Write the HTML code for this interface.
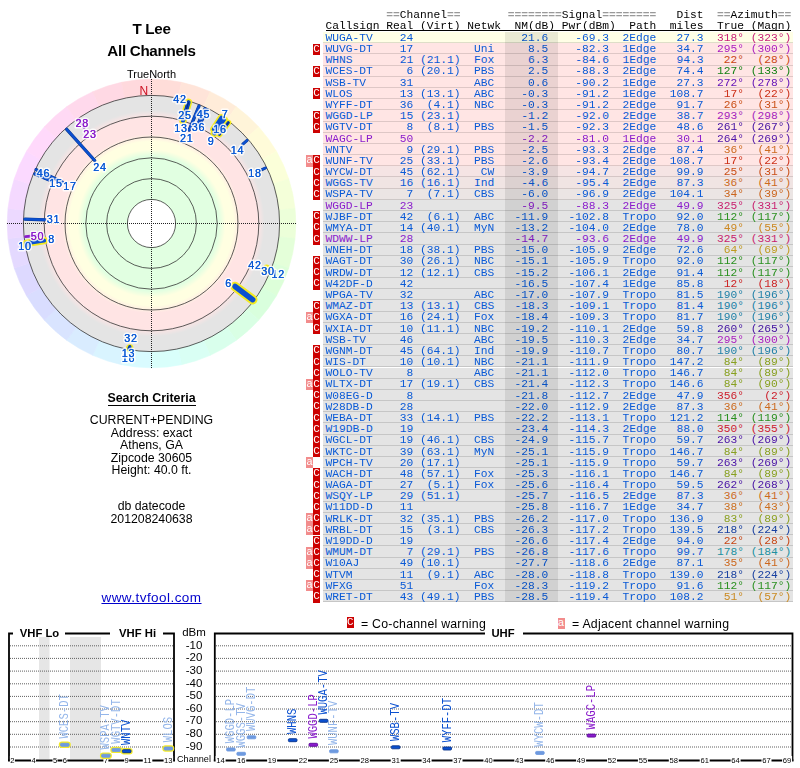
<!DOCTYPE html>
<html><head><meta charset="utf-8"><title>TV Fool</title>
<style>
html,body{margin:0;padding:0;background:#fff;}
body{width:800px;height:768px;position:relative;overflow:hidden;font-family:"Liberation Sans",sans-serif;color:#000;}
.abs{position:absolute;}
.ctr{position:absolute;left:0;width:303px;text-align:center;white-space:nowrap;}
.mono{font-family:"Liberation Mono",monospace;font-size:11.25px;line-height:11px;white-space:pre;}
.row{position:absolute;left:323px;width:469.5px;box-sizing:border-box;border-bottom:1px solid rgba(0,0,0,.13);padding-left:2.4px;padding-top:.8px;color:#0a5ad6;}
.ry{background:#ffffe6;}.rp{background:#ffe5e4;}.rg{background:#e4e4e4;}
.pu{color:#8a1ccc;}
.fl{position:absolute;width:7px;font-family:"Liberation Mono",monospace;font-size:11px;line-height:11px;color:#fff;text-align:center;overflow:hidden;}
.fc{background:#cc0000;left:313px;}
.fa{background:#f28c8c;left:306px;}
.g{color:#999;font-weight:bold;}
.hd{position:absolute;left:325.4px;color:#000;}
svg text{font-family:"Liberation Sans",sans-serif;}
</style></head><body>
<div id="page" style="position:absolute;left:0;top:0;width:800px;height:768px;opacity:.999;">

<div class="ctr" style="top:19.8px;font-size:15.2px;letter-spacing:-.3px;font-weight:bold;line-height:18px;">T Lee</div>
<div class="ctr" style="top:41.8px;font-size:15.2px;letter-spacing:-.3px;font-weight:bold;line-height:18px;">All Channels</div>
<div class="ctr" style="top:68px;font-size:11px;line-height:12px;">TrueNorth</div>
<div class="ctr" style="top:391px;font-size:12.4px;font-weight:bold;line-height:14px;">Search Criteria</div>
<div class="abs" style="left:107.5px;top:404.5px;width:88px;height:1px;background:#000;"></div>
<div class="ctr" style="top:413.0px;font-size:12.3px;line-height:14px;">CURRENT+PENDING</div>
<div class="ctr" style="top:425.5px;font-size:12.3px;line-height:14px;">Address: exact</div>
<div class="ctr" style="top:438.0px;font-size:12.3px;line-height:14px;">Athens, GA</div>
<div class="ctr" style="top:450.5px;font-size:12.3px;line-height:14px;">Zipcode 30605</div>
<div class="ctr" style="top:463.0px;font-size:12.3px;line-height:14px;">Height: 40.0 ft.</div>
<div class="ctr" style="top:499px;font-size:12.3px;line-height:14px;">db datecode</div>
<div class="ctr" style="top:511.5px;font-size:12.3px;line-height:14px;">201208240638</div>
<div class="ctr" style="top:590.2px;font-size:13.5px;line-height:16px;letter-spacing:.45px;color:#0000cc;"><span style="text-decoration:underline;">www.tvfool.com</span></div>
<div class="mono hd" style="top:10px;">         <span class="g">==</span>Channel<span class="g">==</span>       <span class="g">========</span>Signal<span class="g">========</span>   Dist  <span class="g">==</span>Azimuth<span class="g">==</span></div>
<div class="mono hd" style="top:21px;">Callsign Real (Virt) Netwk  NM(dB) Pwr(dBm)  Path  miles  True (Magn)</div>
<div class="abs" style="left:325.5px;top:30.1px;width:465px;height:1px;background:#000;"></div>
<div class="row mono ry" style="top:32.10px;height:11.18px;">WUGA-TV    24                21.6    -69.3  2Edge   27.3  <span style="color:#c81e78">318° (323°)</span></div>
<div class="row mono rp" style="top:43.28px;height:11.18px;">WUVG-DT    17         Uni     8.5    -82.3  1Edge   34.7  <span style="color:#aa1ebe">295° (300°)</span></div>
<div class="fl fc" style="top:43.58px;height:11.18px;">C</div>
<div class="row mono rp" style="top:54.46px;height:11.18px;">WHNS       21 (21.1)  Fox     6.3    -84.6  1Edge   94.3  <span style="color:#c84614"> 22°  (28°)</span></div>
<div class="row mono rp" style="top:65.64px;height:11.18px;">WCES-DT     6 (20.1)  PBS     2.5    -88.3  2Edge   74.4  <span style="color:#148214">127° (133°)</span></div>
<div class="fl fc" style="top:65.94px;height:11.18px;">C</div>
<div class="row mono rp" style="top:76.82px;height:11.18px;">WSB-TV     31         ABC     0.6    -90.2  1Edge   27.3  <span style="color:#6618b8">272° (278°)</span></div>
<div class="row mono rp" style="top:88.00px;height:11.18px;">WLOS       13 (13.1)  ABC    -0.3    -91.2  1Edge  108.7  <span style="color:#cc3018"> 17°  (22°)</span></div>
<div class="fl fc" style="top:88.30px;height:11.18px;">C</div>
<div class="row mono rp" style="top:99.18px;height:11.18px;">WYFF-DT    36  (4.1)  NBC    -0.3    -91.2  2Edge   91.7  <span style="color:#c95017"> 26°  (31°)</span></div>
<div class="row mono rp" style="top:110.36px;height:11.18px;">WGGD-LP    15 (23.1)         -1.2    -92.0  2Edge   38.7  <span style="color:#a41dbd">293° (298°)</span></div>
<div class="fl fc" style="top:110.66px;height:11.18px;">C</div>
<div class="row mono rp" style="top:121.54px;height:11.18px;">WGTV-DT     8  (8.1)  PBS    -1.5    -92.3  2Edge   48.6  <span style="color:#4311a2">261° (267°)</span></div>
<div class="fl fc" style="top:121.84px;height:11.18px;">C</div>
<div class="row mono rp pu" style="top:132.72px;height:11.18px;">WAGC-LP    50                -2.2    -81.0  1Edge   30.1  <span style="color:#4d13a8">264° (269°)</span></div>
<div class="row mono rp" style="top:143.90px;height:11.18px;">WNTV        9 (29.1)  PBS    -2.5    -93.3  2Edge   87.4  <span style="color:#cc6a1e"> 36°  (41°)</span></div>
<div class="row mono rp" style="top:155.08px;height:11.18px;">WUNF-TV    25 (33.1)  PBS    -2.6    -93.4  2Edge  108.7  <span style="color:#cc3018"> 17°  (22°)</span></div>
<div class="fl fc" style="top:155.38px;height:11.18px;">C</div>
<div class="fl fa" style="top:155.38px;height:11.18px;">a</div>
<div class="row mono rg" style="top:166.26px;height:11.18px;background:#f5e4e4;">WYCW-DT    45 (62.1)   CW    -3.9    -94.7  2Edge   99.9  <span style="color:#c94e16"> 25°  (31°)</span></div>
<div class="fl fc" style="top:166.56px;height:11.18px;">C</div>
<div class="row mono rg" style="top:177.44px;height:11.18px;background:#f0e4e3;">WGGS-TV    16 (16.1)  Ind    -4.6    -95.4  2Edge   87.3  <span style="color:#cc6a1e"> 36°  (41°)</span></div>
<div class="fl fc" style="top:177.74px;height:11.18px;">C</div>
<div class="row mono rg" style="top:188.62px;height:11.18px;background:#ebe5e4;">WSPA-TV     7  (7.1)  CBS    -6.0    -96.9  2Edge  104.1  <span style="color:#cb651d"> 34°  (39°)</span></div>
<div class="fl fc" style="top:188.92px;height:11.18px;">C</div>
<div class="row mono rg pu" style="top:199.80px;height:11.18px;">WGGD-LP    23                -9.5    -88.3  2Edge   49.9  <span style="color:#c81e6e">325° (331°)</span></div>
<div class="row mono rg" style="top:210.98px;height:11.18px;">WJBF-DT    42  (6.1)  ABC   -11.9   -102.8  Tropo   92.0  <span style="color:#2a9020">112° (117°)</span></div>
<div class="fl fc" style="top:211.28px;height:11.18px;">C</div>
<div class="row mono rg" style="top:222.16px;height:11.18px;">WMYA-DT    14 (40.1)  MyN   -13.2   -104.0  2Edge   78.0  <span style="color:#cc8822"> 49°  (55°)</span></div>
<div class="fl fc" style="top:222.46px;height:11.18px;">C</div>
<div class="row mono rg pu" style="top:233.34px;height:11.18px;">WDWW-LP    28               -14.7    -93.6  2Edge   49.9  <span style="color:#c81e6e">325° (331°)</span></div>
<div class="fl fc" style="top:233.64px;height:11.18px;">C</div>
<div class="row mono rg" style="top:244.52px;height:11.18px;">WNEH-DT    18 (38.1)  PBS   -15.0   -105.9  2Edge   72.6  <span style="color:#c09a20"> 64°  (69°)</span></div>
<div class="row mono rg" style="top:255.70px;height:11.18px;">WAGT-DT    30 (26.1)  NBC   -15.1   -105.9  Tropo   92.0  <span style="color:#2a9020">112° (117°)</span></div>
<div class="fl fc" style="top:256.00px;height:11.18px;">C</div>
<div class="row mono rg" style="top:266.88px;height:11.18px;">WRDW-DT    12 (12.1)  CBS   -15.2   -106.1  2Edge   91.4  <span style="color:#2a9020">112° (117°)</span></div>
<div class="fl fc" style="top:267.18px;height:11.18px;">C</div>
<div class="row mono rg" style="top:278.06px;height:11.18px;">W42DF-D    42               -16.5   -107.4  1Edge   85.8  <span style="color:#cc2222"> 12°  (18°)</span></div>
<div class="fl fc" style="top:278.36px;height:11.18px;">C</div>
<div class="row mono rg" style="top:289.24px;height:11.18px;">WPGA-TV    32         ABC   -17.0   -107.9  Tropo   81.5  <span style="color:#2080a8">190° (196°)</span></div>
<div class="row mono rg" style="top:300.42px;height:11.18px;">WMAZ-DT    13 (13.1)  CBS   -18.3   -109.1  Tropo   81.4  <span style="color:#2080a8">190° (196°)</span></div>
<div class="fl fc" style="top:300.72px;height:11.18px;">C</div>
<div class="row mono rg" style="top:311.60px;height:11.18px;">WGXA-DT    16 (24.1)  Fox   -18.4   -109.3  Tropo   81.7  <span style="color:#2080a8">190° (196°)</span></div>
<div class="fl fc" style="top:311.90px;height:11.18px;">C</div>
<div class="fl fa" style="top:311.90px;height:11.18px;">a</div>
<div class="row mono rg" style="top:322.78px;height:11.18px;">WXIA-DT    10 (11.1)  NBC   -19.2   -110.1  2Edge   59.8  <span style="color:#4010a0">260° (265°)</span></div>
<div class="fl fc" style="top:323.08px;height:11.18px;">C</div>
<div class="row mono rg" style="top:333.96px;height:11.18px;">WSB-TV     46         ABC   -19.5   -110.3  2Edge   34.7  <span style="color:#aa1ebe">295° (300°)</span></div>
<div class="row mono rg" style="top:345.14px;height:11.18px;">WGNM-DT    45 (64.1)  Ind   -19.9   -110.7  Tropo   80.7  <span style="color:#2080a8">190° (196°)</span></div>
<div class="fl fc" style="top:345.44px;height:11.18px;">C</div>
<div class="row mono rg" style="top:356.32px;height:11.18px;">WIS-DT     10 (10.1)  NBC   -21.1   -111.9  Tropo  147.2  <span style="color:#88a020"> 84°  (89°)</span></div>
<div class="fl fc" style="top:356.62px;height:11.18px;">C</div>
<div class="row mono rg" style="top:367.50px;height:11.18px;">WOLO-TV     8         ABC   -21.1   -112.0  Tropo  146.7  <span style="color:#88a020"> 84°  (89°)</span></div>
<div class="fl fc" style="top:367.80px;height:11.18px;">C</div>
<div class="row mono rg" style="top:378.68px;height:11.18px;">WLTX-DT    17 (19.1)  CBS   -21.4   -112.3  Tropo  146.6  <span style="color:#88a020"> 84°  (90°)</span></div>
<div class="fl fc" style="top:378.98px;height:11.18px;">C</div>
<div class="fl fa" style="top:378.98px;height:11.18px;">a</div>
<div class="row mono rg" style="top:389.86px;height:11.18px;">W08EG-D     8               -21.8   -112.7  2Edge   47.9  <span style="color:#cc1e2b">356°   (2°)</span></div>
<div class="fl fc" style="top:390.16px;height:11.18px;">C</div>
<div class="row mono rg" style="top:401.04px;height:11.18px;">W28DB-D    28               -22.0   -112.9  2Edge   87.3  <span style="color:#cc6a1e"> 36°  (41°)</span></div>
<div class="fl fc" style="top:401.34px;height:11.18px;">C</div>
<div class="row mono rg" style="top:412.22px;height:11.18px;">WEBA-DT    33 (14.1)  PBS   -22.2   -113.1  Tropo  121.2  <span style="color:#278e1e">114° (119°)</span></div>
<div class="fl fc" style="top:412.52px;height:11.18px;">C</div>
<div class="row mono rg" style="top:423.40px;height:11.18px;">W19DB-D    19               -23.4   -114.3  2Edge   88.0  <span style="color:#cc2030">350° (355°)</span></div>
<div class="fl fc" style="top:423.70px;height:11.18px;">C</div>
<div class="row mono rg" style="top:434.58px;height:11.18px;">WGCL-DT    19 (46.1)  CBS   -24.9   -115.7  Tropo   59.7  <span style="color:#4a12a6">263° (269°)</span></div>
<div class="fl fc" style="top:434.88px;height:11.18px;">C</div>
<div class="row mono rg" style="top:445.76px;height:11.18px;">WKTC-DT    39 (63.1)  MyN   -25.1   -115.9  Tropo  146.7  <span style="color:#88a020"> 84°  (89°)</span></div>
<div class="fl fc" style="top:446.06px;height:11.18px;">C</div>
<div class="row mono rg" style="top:456.94px;height:11.18px;">WPCH-TV    20 (17.1)        -25.1   -115.9  Tropo   59.7  <span style="color:#4a12a6">263° (269°)</span></div>
<div class="fl fa" style="top:457.24px;height:11.18px;">a</div>
<div class="row mono rg" style="top:468.12px;height:11.18px;">WACH-DT    48 (57.1)  Fox   -25.3   -116.1  Tropo  146.7  <span style="color:#88a020"> 84°  (89°)</span></div>
<div class="fl fc" style="top:468.42px;height:11.18px;">C</div>
<div class="row mono rg" style="top:479.30px;height:11.18px;">WAGA-DT    27  (5.1)  Fox   -25.6   -116.4  Tropo   59.5  <span style="color:#4611a4">262° (268°)</span></div>
<div class="fl fc" style="top:479.60px;height:11.18px;">C</div>
<div class="row mono rg" style="top:490.48px;height:11.18px;">WSQY-LP    29 (51.1)        -25.7   -116.5  2Edge   87.3  <span style="color:#cc6a1e"> 36°  (41°)</span></div>
<div class="fl fc" style="top:490.78px;height:11.18px;">C</div>
<div class="row mono rg" style="top:501.66px;height:11.18px;">W11DD-D    11               -25.8   -116.7  1Edge   34.7  <span style="color:#cc6f1f"> 38°  (43°)</span></div>
<div class="fl fc" style="top:501.96px;height:11.18px;">C</div>
<div class="row mono rg" style="top:512.84px;height:11.18px;">WRLK-DT    32 (35.1)  PBS   -26.2   -117.0  Tropo  136.9  <span style="color:#8ba020"> 83°  (89°)</span></div>
<div class="fl fc" style="top:513.14px;height:11.18px;">C</div>
<div class="fl fa" style="top:513.14px;height:11.18px;">a</div>
<div class="row mono rg" style="top:524.02px;height:11.18px;">WRBL-DT    15  (3.1)  CBS   -26.3   -117.2  Tropo  139.5  <span style="color:#1840a0">218° (224°)</span></div>
<div class="fl fc" style="top:524.32px;height:11.18px;">C</div>
<div class="fl fa" style="top:524.32px;height:11.18px;">a</div>
<div class="row mono rg" style="top:535.20px;height:11.18px;">W19DD-D    19               -26.6   -117.4  2Edge   94.0  <span style="color:#c84614"> 22°  (28°)</span></div>
<div class="fl fc" style="top:535.50px;height:11.18px;">C</div>
<div class="row mono rg" style="top:546.38px;height:11.18px;">WMUM-DT     7 (29.1)  PBS   -26.8   -117.6  Tropo   99.7  <span style="color:#2090a0">178° (184°)</span></div>
<div class="fl fc" style="top:546.68px;height:11.18px;">C</div>
<div class="fl fa" style="top:546.68px;height:11.18px;">a</div>
<div class="row mono rg" style="top:557.56px;height:11.18px;">W10AJ      49 (10.1)        -27.7   -118.6  2Edge   87.1  <span style="color:#cc671d"> 35°  (41°)</span></div>
<div class="fl fc" style="top:557.86px;height:11.18px;">C</div>
<div class="fl fa" style="top:557.86px;height:11.18px;">a</div>
<div class="row mono rg" style="top:568.74px;height:11.18px;">WTVM       11  (9.1)  ABC   -28.0   -118.8  Tropo  139.0  <span style="color:#1840a0">218° (224°)</span></div>
<div class="fl fc" style="top:569.04px;height:11.18px;">C</div>
<div class="row mono rg" style="top:579.92px;height:11.18px;">WFXG       51         Fox   -28.3   -119.2  Tropo   91.6  <span style="color:#2a9020">112° (117°)</span></div>
<div class="fl fc" style="top:580.22px;height:11.18px;">C</div>
<div class="fl fa" style="top:580.22px;height:11.18px;">a</div>
<div class="row mono rg" style="top:591.10px;height:11.18px;">WRET-DT    43 (49.1)  PBS   -28.5   -119.4  Tropo  108.2  <span style="color:#ca8a22"> 51°  (57°)</span></div>
<div class="fl fc" style="top:591.40px;height:11.18px;">C</div>
<div class="abs" style="left:504.5px;top:32.1px;width:53.5px;height:570.2px;background:rgba(0,0,0,.082);"></div>
<div class="fl" style="left:346.8px;top:617.2px;height:11px;background:#cc0000;">C</div>
<div class="abs" style="left:361px;top:616.8px;font-size:12.3px;line-height:14px;letter-spacing:.25px;white-space:nowrap;">= Co-channel warning</div>
<div class="fl" style="left:557.5px;top:617.5px;height:11px;background:#f28c8c;">a</div>
<div class="abs" style="left:572px;top:616.8px;font-size:12.3px;line-height:14px;letter-spacing:.25px;white-space:nowrap;">= Adjacent channel warning</div>
<svg class="abs" style="left:0;top:0;" width="800" height="768" viewBox="0 0 800 768">
<defs><radialGradient id="rg" gradientUnits="userSpaceOnUse" cx="151.5" cy="223.5" r="128.1">
<stop offset="0.0000" stop-color="#fff"/>
<stop offset="0.1874" stop-color="#fff"/>
<stop offset="0.1874" stop-color="#e1ffe1"/>
<stop offset="0.5269" stop-color="#e1ffe1"/>
<stop offset="0.5777" stop-color="#ffffe1"/>
<stop offset="0.6401" stop-color="#ffffe1"/>
<stop offset="0.6987" stop-color="#ffe4e4"/>
<stop offset="0.8236" stop-color="#ffe4e4"/>
<stop offset="0.8821" stop-color="#e4e4e4"/>
<stop offset="1.0000" stop-color="#e4e4e4"/>
</radialGradient></defs>
<path d="M151.50 223.50 L151.50 79.20 A144.3 144.3 0 0 1 181.50 82.35 Z" fill="#ffddd9" stroke="#ffddd9" stroke-width=".6"/>
<path d="M151.50 223.50 L181.50 82.35 A144.3 144.3 0 0 1 210.19 91.68 Z" fill="#ffe4d9" stroke="#ffe4d9" stroke-width=".6"/>
<path d="M151.50 223.50 L210.19 91.68 A144.3 144.3 0 0 1 236.32 106.76 Z" fill="#ffecd9" stroke="#ffecd9" stroke-width=".6"/>
<path d="M151.50 223.50 L236.32 106.76 A144.3 144.3 0 0 1 258.74 126.94 Z" fill="#fff4d9" stroke="#fff4d9" stroke-width=".6"/>
<path d="M151.50 223.50 L258.74 126.94 A144.3 144.3 0 0 1 276.47 151.35 Z" fill="#fffbd9" stroke="#fffbd9" stroke-width=".6"/>
<path d="M151.50 223.50 L276.47 151.35 A144.3 144.3 0 0 1 288.74 178.91 Z" fill="#fbffd9" stroke="#fbffd9" stroke-width=".6"/>
<path d="M151.50 223.50 L288.74 178.91 A144.3 144.3 0 0 1 295.01 208.42 Z" fill="#f4ffd9" stroke="#f4ffd9" stroke-width=".6"/>
<path d="M151.50 223.50 L295.01 208.42 A144.3 144.3 0 0 1 295.01 238.58 Z" fill="#ecffd9" stroke="#ecffd9" stroke-width=".6"/>
<path d="M151.50 223.50 L295.01 238.58 A144.3 144.3 0 0 1 288.74 268.09 Z" fill="#e4ffd9" stroke="#e4ffd9" stroke-width=".6"/>
<path d="M151.50 223.50 L288.74 268.09 A144.3 144.3 0 0 1 276.47 295.65 Z" fill="#ddffd9" stroke="#ddffd9" stroke-width=".6"/>
<path d="M151.50 223.50 L276.47 295.65 A144.3 144.3 0 0 1 258.74 320.06 Z" fill="#d9ffdd" stroke="#d9ffdd" stroke-width=".6"/>
<path d="M151.50 223.50 L258.74 320.06 A144.3 144.3 0 0 1 236.32 340.24 Z" fill="#d9ffe4" stroke="#d9ffe4" stroke-width=".6"/>
<path d="M151.50 223.50 L236.32 340.24 A144.3 144.3 0 0 1 210.19 355.32 Z" fill="#d9ffec" stroke="#d9ffec" stroke-width=".6"/>
<path d="M151.50 223.50 L210.19 355.32 A144.3 144.3 0 0 1 181.50 364.65 Z" fill="#d9fff4" stroke="#d9fff4" stroke-width=".6"/>
<path d="M151.50 223.50 L181.50 364.65 A144.3 144.3 0 0 1 151.50 367.80 Z" fill="#d9fffb" stroke="#d9fffb" stroke-width=".6"/>
<path d="M151.50 223.50 L151.50 367.80 A144.3 144.3 0 0 1 121.50 364.65 Z" fill="#d9fbff" stroke="#d9fbff" stroke-width=".6"/>
<path d="M151.50 223.50 L121.50 364.65 A144.3 144.3 0 0 1 92.81 355.32 Z" fill="#d9f4ff" stroke="#d9f4ff" stroke-width=".6"/>
<path d="M151.50 223.50 L92.81 355.32 A144.3 144.3 0 0 1 66.68 340.24 Z" fill="#d9ecff" stroke="#d9ecff" stroke-width=".6"/>
<path d="M151.50 223.50 L66.68 340.24 A144.3 144.3 0 0 1 44.26 320.06 Z" fill="#d9e4ff" stroke="#d9e4ff" stroke-width=".6"/>
<path d="M151.50 223.50 L44.26 320.06 A144.3 144.3 0 0 1 26.53 295.65 Z" fill="#d9ddff" stroke="#d9ddff" stroke-width=".6"/>
<path d="M151.50 223.50 L26.53 295.65 A144.3 144.3 0 0 1 14.26 268.09 Z" fill="#ddd9ff" stroke="#ddd9ff" stroke-width=".6"/>
<path d="M151.50 223.50 L14.26 268.09 A144.3 144.3 0 0 1 7.99 238.58 Z" fill="#e4d9ff" stroke="#e4d9ff" stroke-width=".6"/>
<path d="M151.50 223.50 L7.99 238.58 A144.3 144.3 0 0 1 7.99 208.42 Z" fill="#ecd9ff" stroke="#ecd9ff" stroke-width=".6"/>
<path d="M151.50 223.50 L7.99 208.42 A144.3 144.3 0 0 1 14.26 178.91 Z" fill="#f4d9ff" stroke="#f4d9ff" stroke-width=".6"/>
<path d="M151.50 223.50 L14.26 178.91 A144.3 144.3 0 0 1 26.53 151.35 Z" fill="#fbd9ff" stroke="#fbd9ff" stroke-width=".6"/>
<path d="M151.50 223.50 L26.53 151.35 A144.3 144.3 0 0 1 44.26 126.94 Z" fill="#ffd9fb" stroke="#ffd9fb" stroke-width=".6"/>
<path d="M151.50 223.50 L44.26 126.94 A144.3 144.3 0 0 1 66.68 106.76 Z" fill="#ffd9f4" stroke="#ffd9f4" stroke-width=".6"/>
<path d="M151.50 223.50 L66.68 106.76 A144.3 144.3 0 0 1 92.81 91.68 Z" fill="#ffd9ec" stroke="#ffd9ec" stroke-width=".6"/>
<path d="M151.50 223.50 L92.81 91.68 A144.3 144.3 0 0 1 121.50 82.35 Z" fill="#ffd9e4" stroke="#ffd9e4" stroke-width=".6"/>
<path d="M151.50 223.50 L121.50 82.35 A144.3 144.3 0 0 1 151.50 79.20 Z" fill="#ffd9dd" stroke="#ffd9dd" stroke-width=".6"/>
<circle cx="151.5" cy="223.5" r="128.1" fill="url(#rg)"/>
<circle cx="151.5" cy="223.5" r="24.1" fill="none" stroke="#2a2a2a" stroke-width="0.75"/>
<circle cx="151.5" cy="223.5" r="44.9" fill="none" stroke="#2a2a2a" stroke-width="0.75"/>
<circle cx="151.5" cy="223.5" r="65.7" fill="none" stroke="#2a2a2a" stroke-width="0.75"/>
<circle cx="151.5" cy="223.5" r="86.5" fill="none" stroke="#2a2a2a" stroke-width="0.75"/>
<circle cx="151.5" cy="223.5" r="107.3" fill="none" stroke="#2a2a2a" stroke-width="0.75"/>
<circle cx="151.5" cy="223.5" r="128.1" fill="none" stroke="#2a2a2a" stroke-width="0.75"/>
<path d="M7 223.5 H296 M151.5 79 V368" stroke="#222" stroke-width="1" stroke-dasharray="1 1" fill="none"/>
<text x="143.8" y="95.3" font-size="12" fill="#cc1122" text-anchor="middle">N</text>
<path d="M235.1 286.5 L252.7 299.7" stroke="#f3ea20" stroke-width="9.6" stroke-linecap="round"/>
<path d="M183.0 120.6 L188.5 102.3" stroke="#f3ea20" stroke-width="7.4" stroke-linecap="round"/>
<path d="M44.0 240.5 L26.4 243.3" stroke="#f3ea20" stroke-width="7.4" stroke-linecap="round"/>
<path d="M214.4 133.4 L224.0 119.6" stroke="#f3ea20" stroke-width="7.4" stroke-linecap="round"/>
<path d="M213.9 129.3 L221.4 117.8" stroke="#f3ea20" stroke-width="7.4" stroke-linecap="round"/>
<path d="M265.6 269.6 L269.0 271.0" stroke="#f3ea20" stroke-width="7.4" stroke-linecap="round"/>
<path d="M129.6 347.9 L129.5 348.3" stroke="#f3ea20" stroke-width="7.4" stroke-linecap="round"/>
<path d="M26.2 245.6 L26.7 245.5" stroke="#f3ea20" stroke-width="7.4" stroke-linecap="round"/>
<path d="M94.7 160.5 L66.7 129.3" stroke="#0a3690" stroke-width="3.3" stroke-linecap="round"/>
<path d="M94.7 160.5 L66.7 129.3" stroke="#0a50d0" stroke-width="2.4" stroke-linecap="round"/>
<path d="M62.3 181.9 L36.7 170.0" stroke="#0a3690" stroke-width="3.3" stroke-linecap="round"/>
<path d="M62.3 181.9 L36.7 170.0" stroke="#0a50d0" stroke-width="2.4" stroke-linecap="round"/>
<path d="M189.2 130.1 L199.0 106.0" stroke="#0a3690" stroke-width="3.3" stroke-linecap="round"/>
<path d="M189.2 130.1 L199.0 106.0" stroke="#0a50d0" stroke-width="2.4" stroke-linecap="round"/>
<path d="M235.1 286.5 L252.7 299.7" stroke="#0a50d0" stroke-width="5.5" stroke-linecap="round"/>
<path d="M44.9 219.8 L24.9 219.1" stroke="#0a3690" stroke-width="3.3" stroke-linecap="round"/>
<path d="M44.9 219.8 L24.9 219.1" stroke="#0a50d0" stroke-width="2.4" stroke-linecap="round"/>
<path d="M183.0 120.6 L188.5 102.3" stroke="#0a50d0" stroke-width="4.2" stroke-linecap="round"/>
<path d="M198.7 126.8 L207.0 109.6" stroke="#0a3690" stroke-width="3.3" stroke-linecap="round"/>
<path d="M198.7 126.8 L207.0 109.6" stroke="#0a50d0" stroke-width="2.4" stroke-linecap="round"/>
<path d="M51.6 181.1 L34.9 174.0" stroke="#0a3690" stroke-width="3.3" stroke-linecap="round"/>
<path d="M51.6 181.1 L34.9 174.0" stroke="#0a50d0" stroke-width="2.4" stroke-linecap="round"/>
<path d="M44.0 240.5 L26.4 243.3" stroke="#0a50d0" stroke-width="4.2" stroke-linecap="round"/>
<path d="M42.5 235.0 L25.5 236.7" stroke="#8a1ccc" stroke-width="2.8" stroke-linecap="round"/>
<path d="M214.4 133.4 L224.0 119.6" stroke="#0a50d0" stroke-width="4.2" stroke-linecap="round"/>
<path d="M183.7 118.3 L188.5 102.3" stroke="#0a3690" stroke-width="3.3" stroke-linecap="round"/>
<path d="M183.7 118.3 L188.5 102.3" stroke="#0a50d0" stroke-width="2.4" stroke-linecap="round"/>
<path d="M183.7 118.3 L188.5 102.3" stroke="#002a8c" stroke-width="1.3" stroke-linecap="round"/>
<path d="M198.6 122.6 L205.0 108.7" stroke="#0a3690" stroke-width="3.3" stroke-linecap="round"/>
<path d="M198.6 122.6 L205.0 108.7" stroke="#0a50d0" stroke-width="2.4" stroke-linecap="round"/>
<path d="M213.9 129.3 L221.4 117.8" stroke="#0a50d0" stroke-width="4.2" stroke-linecap="round"/>
<path d="M84.3 127.5 L78.8 119.7" stroke="#8a1ccc" stroke-width="2.8" stroke-linecap="round"/>
<path d="M262.5 268.3 L269.0 271.0" stroke="#0a3690" stroke-width="3.0" stroke-linecap="round"/>
<path d="M262.5 268.3 L269.0 271.0" stroke="#0a50d0" stroke-width="2.1" stroke-linecap="round"/>
<path d="M242.8 144.1 L247.1 140.4" stroke="#0a3690" stroke-width="3.0" stroke-linecap="round"/>
<path d="M242.8 144.1 L247.1 140.4" stroke="#0a50d0" stroke-width="2.1" stroke-linecap="round"/>
<path d="M81.2 123.1 L78.8 119.7" stroke="#8a1ccc" stroke-width="2.8" stroke-linecap="round"/>
<path d="M262.0 169.6 L265.4 168.0" stroke="#0a3690" stroke-width="3.0" stroke-linecap="round"/>
<path d="M262.0 169.6 L265.4 168.0" stroke="#0a50d0" stroke-width="2.1" stroke-linecap="round"/>
<path d="M265.5 269.6 L269.0 271.0" stroke="#0a3690" stroke-width="3.0" stroke-linecap="round"/>
<path d="M265.5 269.6 L269.0 271.0" stroke="#0a50d0" stroke-width="2.1" stroke-linecap="round"/>
<path d="M265.6 269.6 L269.0 271.0" stroke="#0a50d0" stroke-width="4.2" stroke-linecap="round"/>
<path d="M177.4 101.8 L177.8 99.6" stroke="#0a3690" stroke-width="3.0" stroke-linecap="round"/>
<path d="M177.4 101.8 L177.8 99.6" stroke="#0a50d0" stroke-width="2.1" stroke-linecap="round"/>
<path d="M129.8 346.6 L129.5 348.3" stroke="#0a3690" stroke-width="3.0" stroke-linecap="round"/>
<path d="M129.8 346.6 L129.5 348.3" stroke="#0a50d0" stroke-width="2.1" stroke-linecap="round"/>
<path d="M129.6 347.9 L129.5 348.3" stroke="#0a50d0" stroke-width="4.2" stroke-linecap="round"/>
<path d="M129.5 348.0 L129.5 348.3" stroke="#0a3690" stroke-width="3.0" stroke-linecap="round"/>
<path d="M129.5 348.0 L129.5 348.3" stroke="#0a50d0" stroke-width="2.1" stroke-linecap="round"/>
<path d="M26.2 245.6 L26.7 245.5" stroke="#0a50d0" stroke-width="4.2" stroke-linecap="round"/>
<path d="M35.9 169.6 L36.7 170.0" stroke="#0a3690" stroke-width="3.0" stroke-linecap="round"/>
<path d="M35.9 169.6 L36.7 170.0" stroke="#0a50d0" stroke-width="2.1" stroke-linecap="round"/>
<path d="M129.3 349.6 L129.5 348.3" stroke="#0a3690" stroke-width="3.0" stroke-linecap="round"/>
<path d="M129.3 349.6 L129.5 348.3" stroke="#0a50d0" stroke-width="2.1" stroke-linecap="round"/>
<path d="M219.4 134.3 L228.3 122.7" stroke="#f3ea20" stroke-width="6.0" stroke-linecap="round"/>
<path d="M219.4 134.3 L228.3 122.7" stroke="#0a3690" stroke-width="3.0" stroke-linecap="round"/>
<path d="M219.4 134.3 L228.3 122.7" stroke="#0a50d0" stroke-width="2.1" stroke-linecap="round"/>
<path d="M219.4 134.3 L228.3 122.7" stroke="#002a8c" stroke-width="1.3" stroke-linecap="round"/>
<circle cx="266.6" cy="267.6" r="3.2" fill="#f3ea20"/>
<text x="180.0" y="102.7" font-size="10.8" text-anchor="middle" fill="#0a5ad6" stroke="#fff" stroke-opacity=".82" stroke-width="3.2" stroke-linejoin="round" paint-order="stroke" letter-spacing=".7">42</text>
<text x="180.0" y="102.7" font-size="10.8" text-anchor="middle" fill="#0a5ad6" stroke="#0a5ad6" stroke-width=".12" letter-spacing=".7">42</text>
<text x="185.0" y="118.7" font-size="10.8" text-anchor="middle" fill="#0a5ad6" stroke="#fff" stroke-opacity=".82" stroke-width="3.2" stroke-linejoin="round" paint-order="stroke" letter-spacing=".7">25</text>
<text x="185.0" y="118.7" font-size="10.8" text-anchor="middle" fill="#0a5ad6" stroke="#0a5ad6" stroke-width=".12" letter-spacing=".7">25</text>
<text x="181.0" y="132.2" font-size="10.8" text-anchor="middle" fill="#0a5ad6" stroke="#fff" stroke-opacity=".82" stroke-width="3.2" stroke-linejoin="round" paint-order="stroke" letter-spacing=".7">13</text>
<text x="181.0" y="132.2" font-size="10.8" text-anchor="middle" fill="#0a5ad6" stroke="#0a5ad6" stroke-width=".12" letter-spacing=".7">13</text>
<text x="186.8" y="142.2" font-size="10.8" text-anchor="middle" fill="#0a5ad6" stroke="#fff" stroke-opacity=".82" stroke-width="3.2" stroke-linejoin="round" paint-order="stroke" letter-spacing=".7">21</text>
<text x="186.8" y="142.2" font-size="10.8" text-anchor="middle" fill="#0a5ad6" stroke="#0a5ad6" stroke-width=".12" letter-spacing=".7">21</text>
<text x="203.5" y="118.2" font-size="10.8" text-anchor="middle" fill="#0a5ad6" stroke="#fff" stroke-opacity=".82" stroke-width="3.2" stroke-linejoin="round" paint-order="stroke" letter-spacing=".7">45</text>
<text x="203.5" y="118.2" font-size="10.8" text-anchor="middle" fill="#0a5ad6" stroke="#0a5ad6" stroke-width=".12" letter-spacing=".7">45</text>
<text x="198.5" y="131.2" font-size="10.8" text-anchor="middle" fill="#0a5ad6" stroke="#fff" stroke-opacity=".82" stroke-width="3.2" stroke-linejoin="round" paint-order="stroke" letter-spacing=".7">36</text>
<text x="198.5" y="131.2" font-size="10.8" text-anchor="middle" fill="#0a5ad6" stroke="#0a5ad6" stroke-width=".12" letter-spacing=".7">36</text>
<text x="225.0" y="118.0" font-size="10.8" text-anchor="middle" fill="#0a5ad6" stroke="#fff" stroke-opacity=".82" stroke-width="3.2" stroke-linejoin="round" paint-order="stroke" letter-spacing=".7">7</text>
<text x="225.0" y="118.0" font-size="10.8" text-anchor="middle" fill="#0a5ad6" stroke="#0a5ad6" stroke-width=".12" letter-spacing=".7">7</text>
<text x="220.0" y="133.2" font-size="10.8" text-anchor="middle" fill="#0a5ad6" stroke="#fff" stroke-opacity=".82" stroke-width="3.2" stroke-linejoin="round" paint-order="stroke" letter-spacing=".7">16</text>
<text x="220.0" y="133.2" font-size="10.8" text-anchor="middle" fill="#0a5ad6" stroke="#0a5ad6" stroke-width=".12" letter-spacing=".7">16</text>
<text x="211.0" y="145.2" font-size="10.8" text-anchor="middle" fill="#0a5ad6" stroke="#fff" stroke-opacity=".82" stroke-width="3.2" stroke-linejoin="round" paint-order="stroke" letter-spacing=".7">9</text>
<text x="211.0" y="145.2" font-size="10.8" text-anchor="middle" fill="#0a5ad6" stroke="#0a5ad6" stroke-width=".12" letter-spacing=".7">9</text>
<text x="237.5" y="153.7" font-size="10.8" text-anchor="middle" fill="#0a5ad6" stroke="#fff" stroke-opacity=".82" stroke-width="3.2" stroke-linejoin="round" paint-order="stroke" letter-spacing=".7">14</text>
<text x="237.5" y="153.7" font-size="10.8" text-anchor="middle" fill="#0a5ad6" stroke="#0a5ad6" stroke-width=".12" letter-spacing=".7">14</text>
<text x="255.0" y="177.2" font-size="10.8" text-anchor="middle" fill="#0a5ad6" stroke="#fff" stroke-opacity=".82" stroke-width="3.2" stroke-linejoin="round" paint-order="stroke" letter-spacing=".7">18</text>
<text x="255.0" y="177.2" font-size="10.8" text-anchor="middle" fill="#0a5ad6" stroke="#0a5ad6" stroke-width=".12" letter-spacing=".7">18</text>
<text x="82.3" y="126.7" font-size="10.8" text-anchor="middle" fill="#8a1ccc" stroke="#fff" stroke-opacity=".82" stroke-width="3.2" stroke-linejoin="round" paint-order="stroke" letter-spacing=".7">28</text>
<text x="82.3" y="126.7" font-size="10.8" text-anchor="middle" fill="#8a1ccc" stroke="#8a1ccc" stroke-width=".12" letter-spacing=".7">28</text>
<text x="90.0" y="137.7" font-size="10.8" text-anchor="middle" fill="#8a1ccc" stroke="#fff" stroke-opacity=".82" stroke-width="3.2" stroke-linejoin="round" paint-order="stroke" letter-spacing=".7">23</text>
<text x="90.0" y="137.7" font-size="10.8" text-anchor="middle" fill="#8a1ccc" stroke="#8a1ccc" stroke-width=".12" letter-spacing=".7">23</text>
<text x="100.0" y="171.2" font-size="10.8" text-anchor="middle" fill="#0a5ad6" stroke="#fff" stroke-opacity=".82" stroke-width="3.2" stroke-linejoin="round" paint-order="stroke" letter-spacing=".7">24</text>
<text x="100.0" y="171.2" font-size="10.8" text-anchor="middle" fill="#0a5ad6" stroke="#0a5ad6" stroke-width=".12" letter-spacing=".7">24</text>
<text x="43.5" y="177.2" font-size="10.8" text-anchor="middle" fill="#0a5ad6" stroke="#fff" stroke-opacity=".82" stroke-width="3.2" stroke-linejoin="round" paint-order="stroke" letter-spacing=".7">46</text>
<text x="43.5" y="177.2" font-size="10.8" text-anchor="middle" fill="#0a5ad6" stroke="#0a5ad6" stroke-width=".12" letter-spacing=".7">46</text>
<text x="56.0" y="187.2" font-size="10.8" text-anchor="middle" fill="#0a5ad6" stroke="#fff" stroke-opacity=".82" stroke-width="3.2" stroke-linejoin="round" paint-order="stroke" letter-spacing=".7">15</text>
<text x="56.0" y="187.2" font-size="10.8" text-anchor="middle" fill="#0a5ad6" stroke="#0a5ad6" stroke-width=".12" letter-spacing=".7">15</text>
<text x="70.0" y="190.2" font-size="10.8" text-anchor="middle" fill="#0a5ad6" stroke="#fff" stroke-opacity=".82" stroke-width="3.2" stroke-linejoin="round" paint-order="stroke" letter-spacing=".7">17</text>
<text x="70.0" y="190.2" font-size="10.8" text-anchor="middle" fill="#0a5ad6" stroke="#0a5ad6" stroke-width=".12" letter-spacing=".7">17</text>
<text x="53.5" y="222.7" font-size="10.8" text-anchor="middle" fill="#0a5ad6" stroke="#fff" stroke-opacity=".82" stroke-width="3.2" stroke-linejoin="round" paint-order="stroke" letter-spacing=".7">31</text>
<text x="53.5" y="222.7" font-size="10.8" text-anchor="middle" fill="#0a5ad6" stroke="#0a5ad6" stroke-width=".12" letter-spacing=".7">31</text>
<text x="37.5" y="240.2" font-size="10.8" text-anchor="middle" fill="#8a1ccc" stroke="#fff" stroke-opacity=".82" stroke-width="3.2" stroke-linejoin="round" paint-order="stroke" letter-spacing=".7">50</text>
<text x="37.5" y="240.2" font-size="10.8" text-anchor="middle" fill="#8a1ccc" stroke="#8a1ccc" stroke-width=".12" letter-spacing=".7">50</text>
<text x="51.5" y="242.7" font-size="10.8" text-anchor="middle" fill="#0a5ad6" stroke="#fff" stroke-opacity=".82" stroke-width="3.2" stroke-linejoin="round" paint-order="stroke" letter-spacing=".7">8</text>
<text x="51.5" y="242.7" font-size="10.8" text-anchor="middle" fill="#0a5ad6" stroke="#0a5ad6" stroke-width=".12" letter-spacing=".7">8</text>
<text x="25.0" y="249.7" font-size="10.8" text-anchor="middle" fill="#0a5ad6" stroke="#fff" stroke-opacity=".82" stroke-width="3.2" stroke-linejoin="round" paint-order="stroke" letter-spacing=".7">10</text>
<text x="25.0" y="249.7" font-size="10.8" text-anchor="middle" fill="#0a5ad6" stroke="#0a5ad6" stroke-width=".12" letter-spacing=".7">10</text>
<text x="228.5" y="286.7" font-size="10.8" text-anchor="middle" fill="#0a5ad6" stroke="#fff" stroke-opacity=".82" stroke-width="3.2" stroke-linejoin="round" paint-order="stroke" letter-spacing=".7">6</text>
<text x="228.5" y="286.7" font-size="10.8" text-anchor="middle" fill="#0a5ad6" stroke="#0a5ad6" stroke-width=".12" letter-spacing=".7">6</text>
<text x="255.0" y="268.7" font-size="10.8" text-anchor="middle" fill="#0a5ad6" stroke="#fff" stroke-opacity=".82" stroke-width="3.2" stroke-linejoin="round" paint-order="stroke" letter-spacing=".7">42</text>
<text x="255.0" y="268.7" font-size="10.8" text-anchor="middle" fill="#0a5ad6" stroke="#0a5ad6" stroke-width=".12" letter-spacing=".7">42</text>
<text x="278.3" y="277.7" font-size="10.8" text-anchor="middle" fill="#0a5ad6" stroke="#fff" stroke-opacity=".82" stroke-width="3.2" stroke-linejoin="round" paint-order="stroke" letter-spacing=".7">12</text>
<text x="278.3" y="277.7" font-size="10.8" text-anchor="middle" fill="#0a5ad6" stroke="#0a5ad6" stroke-width=".12" letter-spacing=".7">12</text>
<text x="268.0" y="274.7" font-size="10.8" text-anchor="middle" fill="#0a5ad6" stroke="#fff" stroke-opacity=".82" stroke-width="3.2" stroke-linejoin="round" paint-order="stroke" letter-spacing=".7">30</text>
<text x="268.0" y="274.7" font-size="10.8" text-anchor="middle" fill="#0a5ad6" stroke="#0a5ad6" stroke-width=".12" letter-spacing=".7">30</text>
<text x="131.0" y="342.2" font-size="10.8" text-anchor="middle" fill="#0a5ad6" stroke="#fff" stroke-opacity=".82" stroke-width="3.2" stroke-linejoin="round" paint-order="stroke" letter-spacing=".7">32</text>
<text x="131.0" y="342.2" font-size="10.8" text-anchor="middle" fill="#0a5ad6" stroke="#0a5ad6" stroke-width=".12" letter-spacing=".7">32</text>
<text x="128.5" y="361.7" font-size="10.8" text-anchor="middle" fill="#0a5ad6" stroke="#fff" stroke-opacity=".82" stroke-width="3.2" stroke-linejoin="round" paint-order="stroke" letter-spacing=".7">16</text>
<text x="128.5" y="361.7" font-size="10.8" text-anchor="middle" fill="#0a5ad6" stroke="#0a5ad6" stroke-width=".12" letter-spacing=".7">16</text>
<text x="128.5" y="356.7" font-size="10.8" text-anchor="middle" fill="#0a5ad6" stroke="#fff" stroke-opacity=".82" stroke-width="3.2" stroke-linejoin="round" paint-order="stroke" letter-spacing=".7">13</text>
<text x="128.5" y="356.7" font-size="10.8" text-anchor="middle" fill="#0a5ad6" stroke="#0a5ad6" stroke-width=".12" letter-spacing=".7">13</text>
<rect x="39" y="637" width="10.5" height="122" fill="#e6e6e6"/><rect x="70" y="637" width="31" height="122" fill="#e6e6e6"/>
<path d="M10 645.8 H173 M216 645.8 H792" stroke="#606060" stroke-width="1" stroke-dasharray="1 1" fill="none"/>
<path d="M10 658.4 H173 M216 658.4 H792" stroke="#606060" stroke-width="1" stroke-dasharray="1 1" fill="none"/>
<path d="M10 671.1 H173 M216 671.1 H792" stroke="#606060" stroke-width="1" stroke-dasharray="1 1" fill="none"/>
<path d="M10 683.8 H173 M216 683.8 H792" stroke="#606060" stroke-width="1" stroke-dasharray="1 1" fill="none"/>
<path d="M10 696.4 H173 M216 696.4 H792" stroke="#606060" stroke-width="1" stroke-dasharray="1 1" fill="none"/>
<path d="M10 709.0 H173 M216 709.0 H792" stroke="#606060" stroke-width="1" stroke-dasharray="1 1" fill="none"/>
<path d="M10 721.7 H173 M216 721.7 H792" stroke="#606060" stroke-width="1" stroke-dasharray="1 1" fill="none"/>
<path d="M10 734.3 H173 M216 734.3 H792" stroke="#606060" stroke-width="1" stroke-dasharray="1 1" fill="none"/>
<path d="M10 747.0 H173 M216 747.0 H792" stroke="#606060" stroke-width="1" stroke-dasharray="1 1" fill="none"/>
<path d="M13 633.5 H9 V760.5 M65 633.5 H110 M163 633.5 H174 V760.5" stroke="#000" stroke-width="1.8" fill="none"/>
<path d="M485 633.5 H214.8 V760.5 M523 633.5 H792.5 V760.5" stroke="#000" stroke-width="1.8" fill="none"/>
<text x="39.5" y="636.6" font-size="11.3" font-weight="bold" text-anchor="middle">VHF Lo</text>
<text x="137.5" y="636.6" font-size="11.3" font-weight="bold" text-anchor="middle">VHF Hi</text>
<text x="503" y="636.6" font-size="11.3" font-weight="bold" text-anchor="middle">UHF</text>
<text x="194" y="635.6" font-size="11.5" text-anchor="middle">dBm</text>
<text x="194" y="648.5" font-size="11.5" text-anchor="middle">-10</text>
<text x="194" y="661.1" font-size="11.5" text-anchor="middle">-20</text>
<text x="194" y="673.8" font-size="11.5" text-anchor="middle">-30</text>
<text x="194" y="686.5" font-size="11.5" text-anchor="middle">-40</text>
<text x="194" y="699.1" font-size="11.5" text-anchor="middle">-50</text>
<text x="194" y="711.8" font-size="11.5" text-anchor="middle">-60</text>
<text x="194" y="724.4" font-size="11.5" text-anchor="middle">-70</text>
<text x="194" y="737.0" font-size="11.5" text-anchor="middle">-80</text>
<text x="194" y="749.7" font-size="11.5" text-anchor="middle">-90</text>
<text x="194" y="761.8" font-size="9.1" text-anchor="middle">Channel</text>
<path d="M8 760.5 H175 M213.8 760.5 H793.5" stroke="#000" stroke-width="2" fill="none"/>
<rect x="9.9" y="756" width="5.0" height="9" fill="#fff"/><text x="12.4" y="763" font-size="7.6" text-anchor="middle">2</text>
<rect x="31.0" y="756" width="5.0" height="9" fill="#fff"/><text x="33.5" y="763" font-size="7.6" text-anchor="middle">4</text>
<rect x="52.5" y="756" width="5.0" height="9" fill="#fff"/><text x="55.0" y="763" font-size="7.6" text-anchor="middle">5</text>
<rect x="62.3" y="756" width="5.0" height="9" fill="#fff"/><text x="64.8" y="763" font-size="7.6" text-anchor="middle">6</text>
<rect x="103.4" y="756" width="5.0" height="9" fill="#fff"/><text x="105.9" y="763" font-size="7.6" text-anchor="middle">7</text>
<rect x="124.2" y="756" width="5.0" height="9" fill="#fff"/><text x="126.7" y="763" font-size="7.6" text-anchor="middle">9</text>
<rect x="142.8" y="756" width="9.5" height="9" fill="#fff"/><text x="147.5" y="763" font-size="7.6" text-anchor="middle">11</text>
<rect x="163.6" y="756" width="9.5" height="9" fill="#fff"/><text x="168.3" y="763" font-size="7.6" text-anchor="middle">13</text>
<rect x="215.6" y="756" width="10.0" height="9" fill="#fff"/><text x="220.6" y="763" font-size="7.6" text-anchor="middle">14</text>
<rect x="236.2" y="756" width="10.0" height="9" fill="#fff"/><text x="241.2" y="763" font-size="7.6" text-anchor="middle">16</text>
<rect x="267.1" y="756" width="10.0" height="9" fill="#fff"/><text x="272.1" y="763" font-size="7.6" text-anchor="middle">19</text>
<rect x="298.0" y="756" width="10.0" height="9" fill="#fff"/><text x="303.0" y="763" font-size="7.6" text-anchor="middle">22</text>
<rect x="328.9" y="756" width="10.0" height="9" fill="#fff"/><text x="333.9" y="763" font-size="7.6" text-anchor="middle">25</text>
<rect x="359.8" y="756" width="10.0" height="9" fill="#fff"/><text x="364.8" y="763" font-size="7.6" text-anchor="middle">28</text>
<rect x="390.7" y="756" width="10.0" height="9" fill="#fff"/><text x="395.7" y="763" font-size="7.6" text-anchor="middle">31</text>
<rect x="421.6" y="756" width="10.0" height="9" fill="#fff"/><text x="426.6" y="763" font-size="7.6" text-anchor="middle">34</text>
<rect x="452.5" y="756" width="10.0" height="9" fill="#fff"/><text x="457.5" y="763" font-size="7.6" text-anchor="middle">37</text>
<rect x="483.4" y="756" width="10.0" height="9" fill="#fff"/><text x="488.4" y="763" font-size="7.6" text-anchor="middle">40</text>
<rect x="514.3" y="756" width="10.0" height="9" fill="#fff"/><text x="519.3" y="763" font-size="7.6" text-anchor="middle">43</text>
<rect x="545.2" y="756" width="10.0" height="9" fill="#fff"/><text x="550.2" y="763" font-size="7.6" text-anchor="middle">46</text>
<rect x="576.1" y="756" width="10.0" height="9" fill="#fff"/><text x="581.1" y="763" font-size="7.6" text-anchor="middle">49</text>
<rect x="607.0" y="756" width="10.0" height="9" fill="#fff"/><text x="612.0" y="763" font-size="7.6" text-anchor="middle">52</text>
<rect x="637.9" y="756" width="10.0" height="9" fill="#fff"/><text x="642.9" y="763" font-size="7.6" text-anchor="middle">55</text>
<rect x="668.8" y="756" width="10.0" height="9" fill="#fff"/><text x="673.8" y="763" font-size="7.6" text-anchor="middle">58</text>
<rect x="699.7" y="756" width="10.0" height="9" fill="#fff"/><text x="704.7" y="763" font-size="7.6" text-anchor="middle">61</text>
<rect x="730.6" y="756" width="10.0" height="9" fill="#fff"/><text x="735.6" y="763" font-size="7.6" text-anchor="middle">64</text>
<rect x="761.5" y="756" width="10.0" height="9" fill="#fff"/><text x="766.5" y="763" font-size="7.6" text-anchor="middle">67</text>
<rect x="782.1" y="756" width="10.0" height="9" fill="#fff"/><text x="787.1" y="763" font-size="7.6" text-anchor="middle">69</text>
<rect x="319.3" y="719.3" width="8.6" height="3" rx="1" fill="#0a50d0" stroke="#0a348c" stroke-width=".9"/>
<text transform="translate(327.0 714.6) rotate(-90) scale(1,1.18)" style="font-family:'Liberation Mono',monospace" font-size="10.6" fill="#0a50d0">WUGA-TV</text>
<rect x="247.2" y="735.8" width="8.6" height="3" rx="1" fill="#6e9ae0" stroke="#6e9ae0" stroke-width=".9"/>
<text transform="translate(254.9 731.1) rotate(-90) scale(1,1.18)" style="font-family:'Liberation Mono',monospace" font-size="10.6" fill="#94b6ea">WUVG-DT</text>
<rect x="288.4" y="738.7" width="8.6" height="3" rx="1" fill="#0a50d0" stroke="#0a348c" stroke-width=".9"/>
<text transform="translate(296.1 734.0) rotate(-90) scale(1,1.18)" style="font-family:'Liberation Mono',monospace" font-size="10.6" fill="#0a50d0">WHNS</text>
<rect x="58.8" y="741.6" width="12" height="6.4" rx="3.2" fill="#f3ea2a"/>
<rect x="60.5" y="743.3" width="8.6" height="3" rx="1" fill="#6e9ae0" stroke="#6e9ae0" stroke-width=".9"/>
<text transform="translate(68.2 738.6) rotate(-90) scale(1,1.18)" style="font-family:'Liberation Mono',monospace" font-size="10.6" fill="#94b6ea">WCES-DT</text>
<rect x="391.4" y="745.8" width="8.6" height="3" rx="1" fill="#0a50d0" stroke="#0a348c" stroke-width=".9"/>
<text transform="translate(399.1 741.1) rotate(-90) scale(1,1.18)" style="font-family:'Liberation Mono',monospace" font-size="10.6" fill="#0a50d0">WSB-TV</text>
<rect x="162.3" y="745.3" width="12" height="6.4" rx="3.2" fill="#f3ea2a"/>
<rect x="164.0" y="747.0" width="8.6" height="3" rx="1" fill="#6e9ae0" stroke="#6e9ae0" stroke-width=".9"/>
<text transform="translate(171.7 742.3) rotate(-90) scale(1,1.18)" style="font-family:'Liberation Mono',monospace" font-size="10.6" fill="#94b6ea">WLOS</text>
<rect x="442.9" y="747.0" width="8.6" height="3" rx="1" fill="#0a50d0" stroke="#0a348c" stroke-width=".9"/>
<text transform="translate(450.6 742.3) rotate(-90) scale(1,1.18)" style="font-family:'Liberation Mono',monospace" font-size="10.6" fill="#0a50d0">WYFF-DT</text>
<rect x="226.6" y="748.0" width="8.6" height="3" rx="1" fill="#6e9ae0" stroke="#6e9ae0" stroke-width=".9"/>
<text transform="translate(234.3 743.3) rotate(-90) scale(1,1.18)" style="font-family:'Liberation Mono',monospace" font-size="10.6" fill="#94b6ea">WGGD-LP</text>
<rect x="110.3" y="746.7" width="12" height="6.4" rx="3.2" fill="#f3ea2a"/>
<rect x="112.0" y="748.4" width="8.6" height="3" rx="1" fill="#6e9ae0" stroke="#6e9ae0" stroke-width=".9"/>
<text transform="translate(119.7 743.7) rotate(-90) scale(1,1.18)" style="font-family:'Liberation Mono',monospace" font-size="10.6" fill="#94b6ea">WGTV-DT</text>
<rect x="587.1" y="734.1" width="8.6" height="3" rx="1" fill="#8a1ccc" stroke="#5a0a96" stroke-width=".9"/>
<text transform="translate(594.8 729.4) rotate(-90) scale(1,1.18)" style="font-family:'Liberation Mono',monospace" font-size="10.6" fill="#8a1ccc">WAGC-LP</text>
<rect x="120.7" y="748.0" width="12" height="6.4" rx="3.2" fill="#f3ea2a"/>
<rect x="122.4" y="749.7" width="8.6" height="3" rx="1" fill="#0a50d0" stroke="#0a348c" stroke-width=".9"/>
<text transform="translate(130.1 745.0) rotate(-90) scale(1,1.18)" style="font-family:'Liberation Mono',monospace" font-size="10.6" fill="#0a50d0">WNTV</text>
<rect x="329.6" y="749.8" width="8.6" height="3" rx="1" fill="#6e9ae0" stroke="#6e9ae0" stroke-width=".9"/>
<text transform="translate(337.3 745.1) rotate(-90) scale(1,1.18)" style="font-family:'Liberation Mono',monospace" font-size="10.6" fill="#94b6ea">WUNF-TV</text>
<rect x="535.6" y="751.4" width="8.6" height="3" rx="1" fill="#6e9ae0" stroke="#6e9ae0" stroke-width=".9"/>
<text transform="translate(543.3 746.7) rotate(-90) scale(1,1.18)" style="font-family:'Liberation Mono',monospace" font-size="10.6" fill="#94b6ea">WYCW-DT</text>
<rect x="236.9" y="752.3" width="8.6" height="3" rx="1" fill="#6e9ae0" stroke="#6e9ae0" stroke-width=".9"/>
<text transform="translate(244.6 747.6) rotate(-90) scale(1,1.18)" style="font-family:'Liberation Mono',monospace" font-size="10.6" fill="#94b6ea">WGGS-TV</text>
<rect x="99.9" y="752.5" width="12" height="6.4" rx="3.2" fill="#f3ea2a"/>
<rect x="101.6" y="754.2" width="8.6" height="3" rx="1" fill="#6e9ae0" stroke="#6e9ae0" stroke-width=".9"/>
<text transform="translate(109.3 749.5) rotate(-90) scale(1,1.18)" style="font-family:'Liberation Mono',monospace" font-size="10.6" fill="#94b6ea">WSPA-TV</text>
<rect x="309.0" y="743.3" width="8.6" height="3" rx="1" fill="#8a1ccc" stroke="#5a0a96" stroke-width=".9"/>
<text transform="translate(316.7 738.6) rotate(-90) scale(1,1.18)" style="font-family:'Liberation Mono',monospace" font-size="10.6" fill="#8a1ccc">WGGD-LP</text>
</svg>
</div>
</body></html>
